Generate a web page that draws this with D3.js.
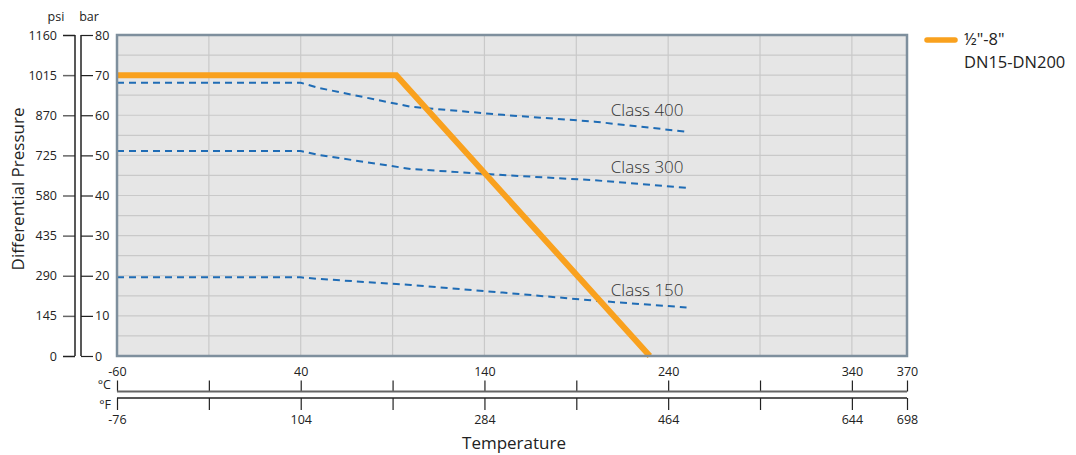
<!DOCTYPE html>
<html><head><meta charset="utf-8">
<script src="https://cdn.jsdelivr.net/npm/d3@7"></script>
<style>
body{margin:0;background:#fff;}
svg text{font-family:"Open Sans","Noto Sans",sans-serif;fill:#222;}
</style></head>
<body><svg id="c" width="1076" height="455"></svg>
<script>
// ---- data ----
const tempC = [-60, 40, 50, 100, 150, 200, 250];
const class150 = [19.6, 19.6, 19.2, 17.7, 15.8, 13.8, 12.1];
const class300 = [51.1, 51.1, 50.1, 46.6, 45.1, 43.8, 41.9];
const class400 = [68.1, 68.1, 66.8, 62.1, 60.1, 58.4, 55.9];
const valveTemp = [-60, 92, 230];
const valveBar = [70, 70, 0];
const barTicks = [0, 10, 20, 30, 40, 50, 60, 70, 80];
const psiTicks = [0, 145, 290, 435, 580, 725, 870, 1015, 1160];
const cTicks = [-60, -10, 40, 90, 140, 190, 240, 290, 340, 370];
const cLabels = ["-60", "", "40", "", "140", "", "240", "", "340", "370"];
const fLabels = ["-76", "", "104", "", "284", "", "464", "", "644", "698"];
const classNames = ["Class 400", "Class 300", "Class 150"];
const legendLines = ["½\"-8\"", "DN15-DN200"];

const svg = d3.select("#c");
const L = 117, R = 907, T = 35, B = 356;
const x = d3.scaleLinear().domain([-60, 370]).range([L, R]);
const y = d3.scaleLinear().domain([0, 80]).range([B, T]);

// background
svg.append("rect").attr("x", L).attr("y", T).attr("width", R - L).attr("height", B - T).attr("fill", "#e6e6e6");
// grid
const g = svg.append("g");
d3.range(5, 80, 5).forEach(v => g.append("line").attr("x1", L).attr("x2", R).attr("y1", y(v)).attr("y2", y(v)).attr("stroke", "#c9c9c9").attr("stroke-width", 1.2));
cTicks.slice(1, -1).forEach(v => g.append("line").attr("x1", x(v)).attr("x2", x(v)).attr("y1", T).attr("y2", B).attr("stroke", "#c9c9c9").attr("stroke-width", 1.2));

// class lines
const line = d3.line().x(d => x(d[0])).y(d => y(d[1]));
[class400, class300, class150].forEach(s => {
  svg.append("path").attr("d", line(tempC.map((t, i) => [t, s[i]])))
    .attr("fill", "none").attr("stroke", "#1f6cb5").attr("stroke-width", 2).attr("stroke-dasharray", "7,5");
});
// class labels
const lblPos = [[250, 59.7], [250, 45.6], [250, 14.9]];
classNames.forEach((n, i) => {
  svg.append("text").attr("x", x(lblPos[i][0]) - 3).attr("y", y(lblPos[i][1])).attr("text-anchor", "end")
    .attr("font-size", 17).attr("font-weight", 300).style("fill", "#333").text(n);
});
// valve line
svg.append("path").attr("d", line(valveTemp.map((t, i) => [t, valveBar[i]])))
  .attr("fill", "none").attr("stroke", "#f9a11e").attr("stroke-width", 6).attr("stroke-linejoin", "miter");

// border
svg.append("rect").attr("x", L).attr("y", T).attr("width", R - L).attr("height", B - T)
  .attr("fill", "none").attr("stroke", "#7e8f9d").attr("stroke-width", 2.5);

// left axes
const psiX = 75, barX = 81;
const yp = d3.scaleLinear().domain([0, 1160]).range([B, T]);
const psiAxis = d3.axisLeft(yp).tickValues(psiTicks).tickSize(12).tickPadding(6).tickFormat(d3.format("d"));
const pa = svg.append("g").attr("transform", `translate(${psiX},0)`).call(psiAxis);
pa.select(".domain").remove();
pa.selectAll(".tick line").attr("stroke", "#666").attr("stroke-width", 1.5);
pa.selectAll("text").attr("font-size", 12.5).style("font-family", "'Open Sans'").style("fill", "#222");
svg.append("line").attr("x1", psiX).attr("x2", psiX).attr("y1", T).attr("y2", B).attr("stroke", "#222").attr("stroke-width", 1.5);
pa.selectAll(".tick").filter(d => d === 0 || d === 1160).select("line").attr("stroke", "#222");

const barAxis = d3.axisRight(y).tickValues(barTicks).tickSize(12).tickPadding(2);
const ba = svg.append("g").attr("transform", `translate(${barX},0)`).call(barAxis);
ba.select(".domain").remove();
ba.selectAll(".tick line").attr("stroke", "#222").attr("stroke-width", 1.2);
ba.selectAll("text").attr("font-size", 12.5).style("font-family", "'Open Sans'").style("fill", "#222");
svg.append("line").attr("x1", barX).attr("x2", barX).attr("y1", T).attr("y2", B).attr("stroke", "#222").attr("stroke-width", 1.5);

svg.append("text").attr("x", 56).attr("y", 21).attr("text-anchor", "middle").attr("font-size", 12.5).text("psi");
svg.append("text").attr("x", 89).attr("y", 21).attr("text-anchor", "middle").attr("font-size", 12.5).text("bar");

// bottom axes
const cY = 391.5, fY = 398;
const ca = svg.append("g").attr("transform", `translate(0,${cY})`)
  .call(d3.axisTop(x).tickValues(cTicks).tickSize(11).tickPadding(5).tickFormat((d, i) => cLabels[i]));
ca.select(".domain").remove();
ca.selectAll(".tick line").attr("stroke", "#222").attr("stroke-width", 1.2);
ca.selectAll("text").attr("font-size", 12.5).style("font-family", "'Open Sans'").style("fill", "#222");
svg.append("line").attr("x1", L).attr("x2", R).attr("y1", cY).attr("y2", cY).attr("stroke", "#666").attr("stroke-width", 2);

const fa = svg.append("g").attr("transform", `translate(0,${fY})`)
  .call(d3.axisBottom(x).tickValues(cTicks).tickSize(12).tickPadding(5).tickFormat((d, i) => fLabels[i]));
fa.select(".domain").remove();
fa.selectAll(".tick line").attr("stroke", "#222").attr("stroke-width", 1.2);
fa.selectAll("text").attr("font-size", 12.5).style("font-family", "'Open Sans'").style("fill", "#222");
svg.append("line").attr("x1", L).attr("x2", R).attr("y1", fY).attr("y2", fY).attr("stroke", "#222").attr("stroke-width", 1.5);

svg.append("text").attr("x", 111).attr("y", 389).attr("text-anchor", "end").attr("font-size", 12.5).text("°C");
svg.append("text").attr("x", 111).attr("y", 409).attr("text-anchor", "end").attr("font-size", 12.5).text("°F");

// axis titles
svg.append("text").attr("x", 514).attr("y", 449).attr("text-anchor", "middle").attr("font-size", 17).text("Temperature");
svg.append("text").attr("transform", "translate(24,189) rotate(-90)").attr("text-anchor", "middle").attr("font-size", 17).text("Differential Pressure");

// legend
svg.append("line").attr("x1", 927).attr("x2", 955).attr("y1", 40).attr("y2", 40)
  .attr("stroke", "#f9a11e").attr("stroke-width", 5.5).attr("stroke-linecap", "round");
legendLines.forEach((t, i) => svg.append("text").attr("x", 964).attr("y", 45 + i * 23).attr("font-size", 16.5).text(t));
</script></body></html>
